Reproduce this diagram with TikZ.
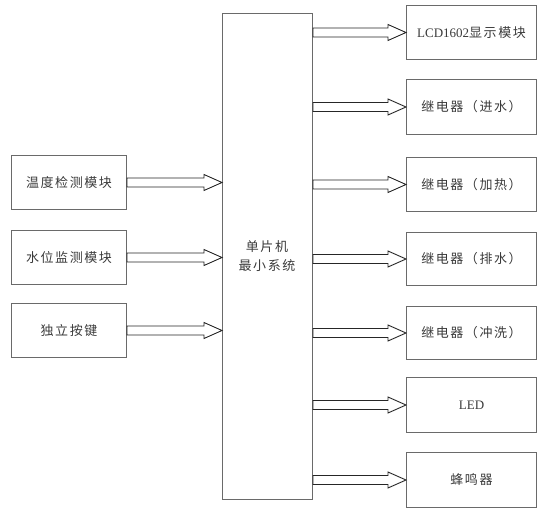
\documentclass[tikz,border=0pt]{standalone}
\usepackage{fontspec}
\setmainfont{Liberation Serif}
\newfontfamily\cjk[LetterSpace=12]{Noto Sans CJK SC}
\usetikzlibrary{calc}
\definecolor{boxline}{HTML}{6A6A6A}
\definecolor{txt}{HTML}{3A3A3A}
\tikzset{
  blk/.style={draw=boxline, line width=1pt, inner sep=0pt, anchor=north west, text=txt, font=\fontsize{13}{19}\selectfont},
  arrowline/.style={draw=black!85, line width=0.9pt, fill=white, line join=miter},
}
\newcommand\harrow[2]{%
  \draw[arrowline] let \p1=(#1), \p2=(#2) in
    (\x1,\y1+4.5) -- (\x2-18,\y1+4.5) -- (\x2-18,\y1+8) -- (\x2,\y1)
    -- (\x2-18,\y1-8) -- (\x2-18,\y1-4.5) -- (\x1,\y1-4.5) -- cycle;}
\begin{document}
\begin{tikzpicture}[x=1pt,y=-1pt]
\useasboundingbox (0,0) rectangle (544,516);
% central block
\node[blk, minimum width=90pt, minimum height=486pt, align=center] (mcu) at (222,13) {};
\node[text=txt, font=\fontsize{13}{19}\selectfont, align=center] (mcut) at (267,256) {\cjk 单片机\\\cjk 最小系统};
% left blocks
\node[blk, minimum width=115pt, minimum height=54pt] (temp) at (11,155) {\cjk 温度检测模块};
\node[blk, minimum width=115pt, minimum height=54pt] (water) at (11,230) {\cjk 水位监测模块};
\node[blk, minimum width=115pt, minimum height=54pt] (key) at (11,303) {\cjk 独立按键};
% right blocks
\node[blk, minimum width=130pt, minimum height=54pt] (lcd) at (406,5) {LCD1602{\cjk 显示模块}};
\node[blk, minimum width=130pt, minimum height=55pt] (r1) at (406,79) {\cjk 继电器（进水）};
\node[blk, minimum width=130pt, minimum height=54pt] (r2) at (406,157) {\cjk 继电器（加热）};
\node[blk, minimum width=130pt, minimum height=53pt] (r3) at (406,232) {\cjk 继电器（排水）};
\node[blk, minimum width=130pt, minimum height=53pt] (r4) at (406,306) {\cjk 继电器（冲洗）};
\node[blk, minimum width=130pt, minimum height=55pt] (led) at (406,377) {LED};
\node[blk, minimum width=130pt, minimum height=55pt] (buz) at (406,452) {\cjk 蜂鸣器};
% connector end points
\coordinate (i1) at (mcu.west |- temp.east);
\coordinate (i2) at (mcu.west |- water.east);
\coordinate (i3) at (mcu.west |- key.east);
\coordinate (o1) at (mcu.east |- lcd.west);
\coordinate (o2) at (mcu.east |- r1.west);
\coordinate (o3) at (mcu.east |- r2.west);
\coordinate (o4) at (mcu.east |- r3.west);
\coordinate (o5) at (mcu.east |- r4.west);
\coordinate (o6) at (mcu.east |- led.west);
\coordinate (o7) at (mcu.east |- buz.west);
% arrows
\harrow{temp.east}{i1}
\harrow{water.east}{i2}
\harrow{key.east}{i3}
\harrow{o1}{lcd.west}
\harrow{o2}{r1.west}
\harrow{o3}{r2.west}
\harrow{o4}{r3.west}
\harrow{o5}{r4.west}
\harrow{o6}{led.west}
\harrow{o7}{buz.west}
\end{tikzpicture}
\end{document}
